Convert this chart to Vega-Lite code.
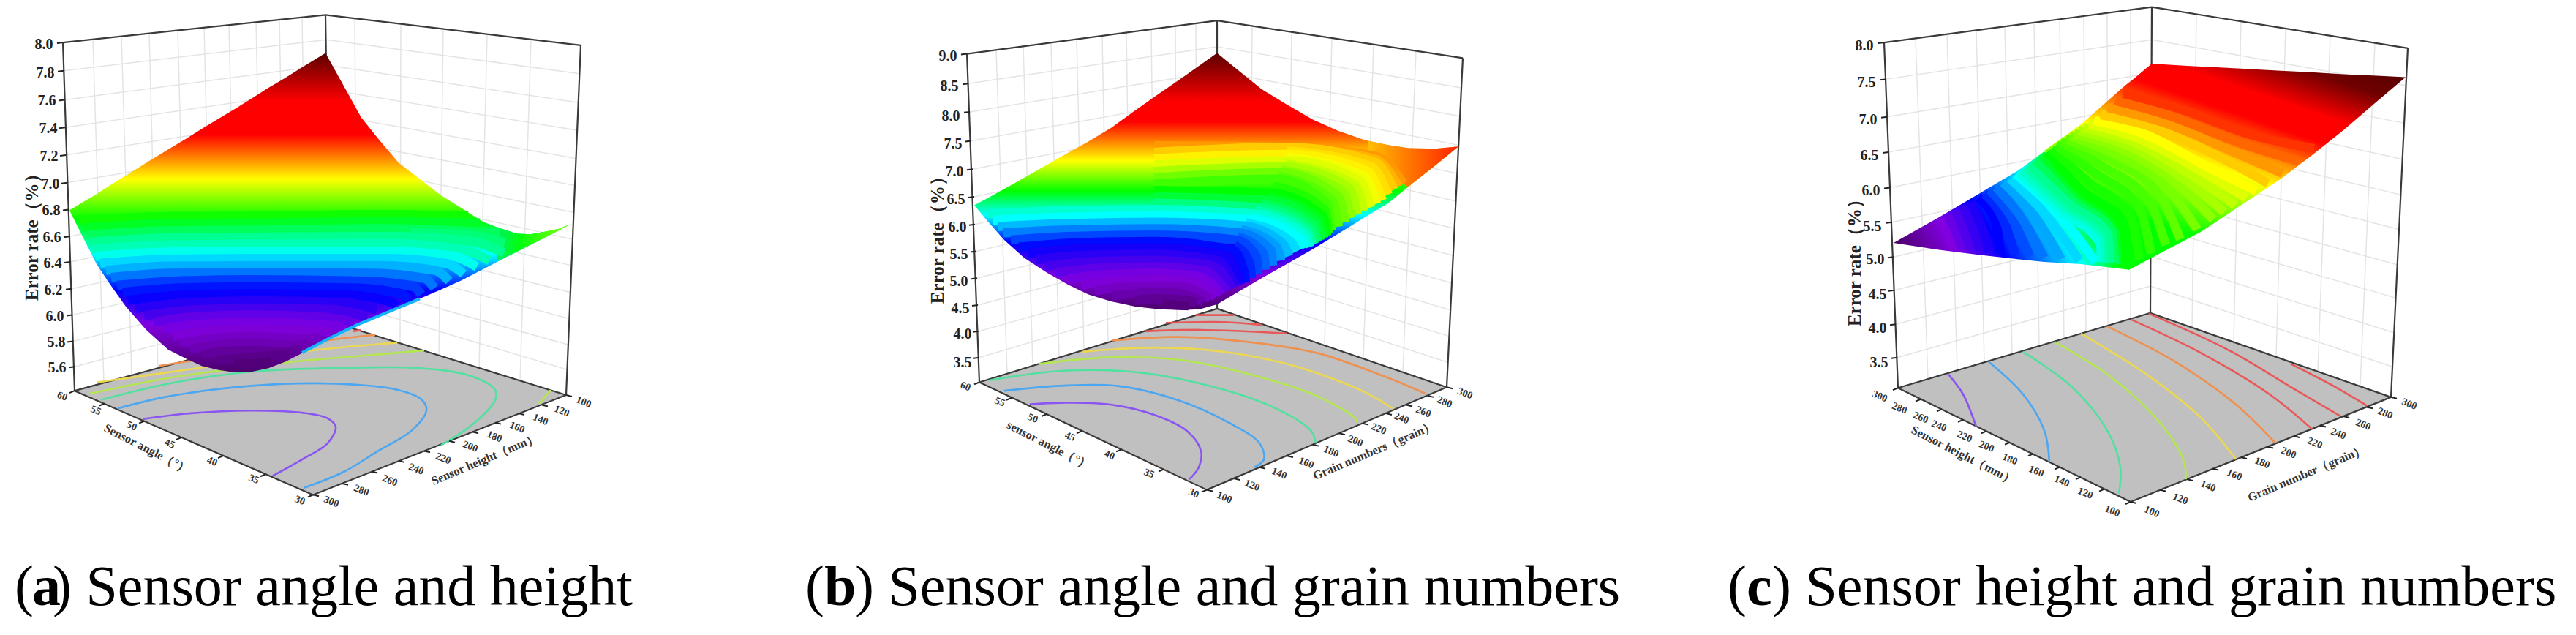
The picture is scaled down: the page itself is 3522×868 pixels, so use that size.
{
"$schema":"https://vega.github.io/schema/vega-lite/v6.json",
"width":3522,"height":868,"padding":0,"background":"white",
"autosize":{"type":"fit","contains":"padding"},
"config":{"view":{"stroke":null}},
"datasets":{
"grid":[
{"x":87,"y":100,"x2":446,"y2":56},{"x":88,"y":141,"x2":446,"y2":92},{"x":89,"y":180,"x2":446,"y2":126},{"x":90,"y":219,"x2":447,"y2":161},{"x":92,"y":258,"x2":447,"y2":195},{"x":94,"y":296,"x2":448,"y2":228},{"x":95,"y":334,"x2":448,"y2":261},{"x":96,"y":370,"x2":449,"y2":293},{"x":98,"y":408,"x2":449,"y2":327},{"x":99,"y":445,"x2":450,"y2":359},{"x":100,"y":482,"x2":450,"y2":392},{"x":102,"y":518,"x2":451,"y2":422},
{"x":446,"y":56,"x2":792,"y2":104},{"x":446,"y":92,"x2":791,"y2":145},{"x":446,"y":126,"x2":789,"y2":184},{"x":447,"y":161,"x2":788,"y2":224},{"x":447,"y":195,"x2":786,"y2":262},{"x":448,"y":228,"x2":784,"y2":300},{"x":448,"y":261,"x2":783,"y2":338},{"x":449,"y":293,"x2":781,"y2":375},{"x":449,"y":327,"x2":780,"y2":413},{"x":450,"y":359,"x2":778,"y2":450},{"x":450,"y":392,"x2":777,"y2":487},{"x":451,"y":422,"x2":775,"y2":522},
{"x":127,"y":56,"x2":142,"y2":541},{"x":166,"y":51,"x2":180,"y2":530},{"x":204,"y":47,"x2":216,"y2":520},{"x":243,"y":43,"x2":255,"y2":509},{"x":279,"y":39,"x2":290,"y2":499},{"x":313,"y":35,"x2":323,"y2":490},{"x":350,"y":31,"x2":359,"y2":480},{"x":382,"y":28,"x2":390,"y2":471},{"x":413,"y":24,"x2":420,"y2":463},
{"x":485,"y":26,"x2":488,"y2":466},{"x":548,"y":34,"x2":547,"y2":485},{"x":606,"y":41,"x2":600,"y2":502},{"x":666,"y":48,"x2":655,"y2":520},{"x":726,"y":56,"x2":711,"y2":538},
{"x":1324,"y":118,"x2":1664,"y2":66},{"x":1326,"y":158,"x2":1664,"y2":101},{"x":1328,"y":199,"x2":1664,"y2":137},{"x":1330,"y":239,"x2":1664,"y2":172},{"x":1332,"y":278,"x2":1664,"y2":206},{"x":1333,"y":317,"x2":1664,"y2":240},{"x":1335,"y":355,"x2":1664,"y2":274},{"x":1336,"y":393,"x2":1664,"y2":307},{"x":1337,"y":431,"x2":1664,"y2":340},{"x":1338,"y":468,"x2":1664,"y2":373},{"x":1339,"y":505,"x2":1664,"y2":405},
{"x":1664,"y":66,"x2":1998,"y2":124},{"x":1664,"y":101,"x2":1996,"y2":164},{"x":1664,"y":137,"x2":1994,"y2":205},{"x":1664,"y":172,"x2":1992,"y2":245},{"x":1664,"y":206,"x2":1990,"y2":284},{"x":1664,"y":240,"x2":1989,"y2":323},{"x":1664,"y":274,"x2":1987,"y2":361},{"x":1664,"y":307,"x2":1985,"y2":400},{"x":1664,"y":340,"x2":1983,"y2":438},{"x":1664,"y":373,"x2":1981,"y2":475},{"x":1664,"y":405,"x2":1980,"y2":512},
{"x":1362,"y":71,"x2":1377,"y2":528},{"x":1399,"y":65,"x2":1412,"y2":517},{"x":1437,"y":60,"x2":1448,"y2":505},{"x":1472,"y":55,"x2":1482,"y2":494},{"x":1507,"y":51,"x2":1515,"y2":484},{"x":1540,"y":46,"x2":1546,"y2":474},{"x":1574,"y":41,"x2":1579,"y2":463},{"x":1607,"y":37,"x2":1609,"y2":453},{"x":1635,"y":33,"x2":1637,"y2":445},
{"x":1712,"y":37,"x2":1709,"y2":452},{"x":1766,"y":45,"x2":1760,"y2":470},{"x":1821,"y":54,"x2":1811,"y2":488},{"x":1878,"y":63,"x2":1864,"y2":507},{"x":1936,"y":72,"x2":1918,"y2":526},
{"x":2578,"y":112,"x2":2942,"y2":56},{"x":2580,"y":165,"x2":2942,"y2":103},{"x":2582,"y":215,"x2":2942,"y2":147},{"x":2584,"y":265,"x2":2942,"y2":191},{"x":2587,"y":314,"x2":2941,"y2":235},{"x":2589,"y":363,"x2":2941,"y2":278},{"x":2590,"y":410,"x2":2941,"y2":320},{"x":2592,"y":458,"x2":2940,"y2":362},{"x":2594,"y":505,"x2":2940,"y2":404},
{"x":2942,"y":56,"x2":3290,"y2":121},{"x":2942,"y":103,"x2":3287,"y2":174},{"x":2942,"y":147,"x2":3285,"y2":225},{"x":2942,"y":191,"x2":3282,"y2":275},{"x":2941,"y":235,"x2":3280,"y2":324},{"x":2941,"y":278,"x2":3278,"y2":374},{"x":2941,"y":320,"x2":3276,"y2":421},{"x":2940,"y":362,"x2":3273,"y2":470},{"x":2940,"y":404,"x2":3271,"y2":518},
{"x":2619,"y":54,"x2":2636,"y2":535},{"x":2662,"y":48,"x2":2676,"y2":523},{"x":2702,"y":43,"x2":2713,"y2":512},{"x":2741,"y":37,"x2":2751,"y2":500},{"x":2781,"y":32,"x2":2788,"y2":489},{"x":2816,"y":27,"x2":2822,"y2":478},{"x":2849,"y":23,"x2":2852,"y2":469},{"x":2881,"y":18,"x2":2882,"y2":460},{"x":2913,"y":14,"x2":2913,"y2":450},
{"x":3003,"y":20,"x2":2997,"y2":463},{"x":3064,"y":30,"x2":3054,"y2":483},{"x":3125,"y":40,"x2":3112,"y2":504},{"x":3186,"y":50,"x2":3169,"y2":525},{"x":3247,"y":61,"x2":3227,"y2":546}
],
"floor":[
{"p":"a","x":102,"y":552,"y2":552},{"p":"a","x":428,"y":460,"y2":699},{"p":"a","x":451,"y":454,"y2":690},{"p":"a","x":774,"y":558,"y2":558},
{"p":"b","x":1339,"y":540,"y2":540},{"p":"b","x":1650,"y":440,"y2":692},{"p":"b","x":1664,"y":436,"y2":686},{"p":"b","x":1978,"y":547,"y2":547},
{"p":"c","x":2595,"y":548,"y2":548},{"p":"c","x":2913,"y":450,"y2":709},{"p":"c","x":2940,"y":442,"y2":698},{"p":"c","x":3269,"y":561,"y2":561}
],
"frame":[
{"x":86,"y":60,"x2":102,"y2":552},{"x":445,"y":21,"x2":451,"y2":454},{"x":794,"y":64,"x2":774,"y2":558},{"x":86,"y":60,"x2":445,"y2":21},{"x":445,"y":21,"x2":794,"y2":64},{"x":102,"y":552,"x2":451,"y2":454},{"x":451,"y":454,"x2":774,"y2":558},{"x":102,"y":552,"x2":428,"y2":699},{"x":428,"y":699,"x2":774,"y2":558},
{"x":1322,"y":76,"x2":1339,"y2":540},{"x":1664,"y":29,"x2":1664,"y2":436},{"x":2000,"y":82,"x2":1978,"y2":547},{"x":1322,"y":76,"x2":1664,"y2":29},{"x":1664,"y":29,"x2":2000,"y2":82},{"x":1339,"y":540,"x2":1664,"y2":436},{"x":1664,"y":436,"x2":1978,"y2":547},{"x":1339,"y":540,"x2":1650,"y2":692},{"x":1650,"y":692,"x2":1978,"y2":547},
{"x":2576,"y":60,"x2":2595,"y2":548},{"x":2942,"y":10,"x2":2940,"y2":442},{"x":3292,"y":68,"x2":3269,"y2":561},{"x":2576,"y":60,"x2":2942,"y2":10},{"x":2942,"y":10,"x2":3292,"y2":68},{"x":2595,"y":548,"x2":2940,"y2":442},{"x":2940,"y":442,"x2":3269,"y2":561},{"x":2595,"y":548,"x2":2913,"y2":709},{"x":2913,"y":709,"x2":3269,"y2":561}
],
"ticks":[
{"x":86,"y":60,"x2":78,"y2":61},{"x":87,"y":100,"x2":79,"y2":101},{"x":88,"y":141,"x2":80,"y2":142},{"x":89,"y":180,"x2":81,"y2":181},{"x":90,"y":219,"x2":82,"y2":220},{"x":92,"y":258,"x2":84,"y2":259},{"x":94,"y":296,"x2":86,"y2":297},{"x":95,"y":334,"x2":87,"y2":335},{"x":96,"y":370,"x2":88,"y2":371},{"x":98,"y":408,"x2":90,"y2":409},{"x":99,"y":445,"x2":91,"y2":446},{"x":100,"y":482,"x2":92,"y2":483},{"x":102,"y":518,"x2":94,"y2":519},
{"x":102,"y":552,"x2":95,"y2":555},{"x":143,"y":570,"x2":136,"y2":573},{"x":197,"y":595,"x2":190,"y2":598},{"x":248,"y":618,"x2":241,"y2":621},{"x":305,"y":644,"x2":298,"y2":647},{"x":363,"y":670,"x2":356,"y2":673},{"x":428,"y":699,"x2":421,"y2":702},
{"x":428,"y":699,"x2":436,"y2":701},{"x":468,"y":683,"x2":476,"y2":685},{"x":508,"y":666,"x2":516,"y2":668},{"x":545,"y":651,"x2":553,"y2":653},{"x":580,"y":637,"x2":588,"y2":639},{"x":614,"y":623,"x2":622,"y2":625},{"x":646,"y":610,"x2":654,"y2":612},{"x":677,"y":597,"x2":685,"y2":599},{"x":709,"y":584,"x2":717,"y2":586},{"x":741,"y":572,"x2":749,"y2":574},{"x":774,"y":558,"x2":782,"y2":560},
{"x":1322,"y":76,"x2":1314,"y2":77},{"x":1324,"y":118,"x2":1316,"y2":119},{"x":1326,"y":158,"x2":1318,"y2":159},{"x":1328,"y":199,"x2":1320,"y2":200},{"x":1330,"y":239,"x2":1322,"y2":240},{"x":1332,"y":278,"x2":1324,"y2":279},{"x":1333,"y":317,"x2":1325,"y2":318},{"x":1335,"y":355,"x2":1327,"y2":356},{"x":1336,"y":393,"x2":1328,"y2":394},{"x":1337,"y":431,"x2":1329,"y2":432},{"x":1338,"y":468,"x2":1330,"y2":469},{"x":1339,"y":505,"x2":1331,"y2":506},
{"x":1339,"y":540,"x2":1332,"y2":543},{"x":1383,"y":562,"x2":1376,"y2":565},{"x":1431,"y":585,"x2":1424,"y2":588},{"x":1479,"y":609,"x2":1472,"y2":612},{"x":1533,"y":635,"x2":1526,"y2":638},{"x":1591,"y":663,"x2":1584,"y2":666},{"x":1650,"y":692,"x2":1643,"y2":695},
{"x":1650,"y":692,"x2":1658,"y2":694},{"x":1687,"y":676,"x2":1695,"y2":678},{"x":1722,"y":660,"x2":1730,"y2":662},{"x":1760,"y":644,"x2":1768,"y2":646},{"x":1795,"y":628,"x2":1803,"y2":630},{"x":1831,"y":612,"x2":1839,"y2":614},{"x":1863,"y":598,"x2":1871,"y2":600},{"x":1895,"y":584,"x2":1903,"y2":586},{"x":1923,"y":572,"x2":1931,"y2":574},{"x":1952,"y":559,"x2":1960,"y2":561},{"x":1978,"y":547,"x2":1986,"y2":549},
{"x":2576,"y":60,"x2":2568,"y2":61},{"x":2578,"y":112,"x2":2570,"y2":113},{"x":2580,"y":165,"x2":2572,"y2":166},{"x":2582,"y":215,"x2":2574,"y2":216},{"x":2584,"y":265,"x2":2576,"y2":266},{"x":2587,"y":314,"x2":2579,"y2":315},{"x":2589,"y":363,"x2":2581,"y2":364},{"x":2590,"y":410,"x2":2582,"y2":411},{"x":2592,"y":458,"x2":2584,"y2":459},{"x":2594,"y":505,"x2":2586,"y2":506},
{"x":2595,"y":548,"x2":2588,"y2":551},{"x":2626,"y":564,"x2":2619,"y2":567},{"x":2655,"y":578,"x2":2648,"y2":581},{"x":2684,"y":593,"x2":2677,"y2":596},{"x":2716,"y":609,"x2":2709,"y2":612},{"x":2748,"y":625,"x2":2741,"y2":628},{"x":2780,"y":641,"x2":2773,"y2":644},{"x":2816,"y":660,"x2":2809,"y2":663},{"x":2845,"y":674,"x2":2838,"y2":677},{"x":2877,"y":691,"x2":2870,"y2":694},{"x":2913,"y":709,"x2":2906,"y2":712},
{"x":2913,"y":709,"x2":2921,"y2":711},{"x":2953,"y":692,"x2":2961,"y2":694},{"x":2990,"y":677,"x2":2998,"y2":679},{"x":3025,"y":662,"x2":3033,"y2":664},{"x":3064,"y":646,"x2":3072,"y2":648},{"x":3100,"y":631,"x2":3108,"y2":633},{"x":3136,"y":616,"x2":3144,"y2":618},{"x":3172,"y":601,"x2":3180,"y2":603},{"x":3204,"y":588,"x2":3212,"y2":590},{"x":3236,"y":575,"x2":3244,"y2":577},{"x":3269,"y":561,"x2":3277,"y2":563}
],
"contours":[
{"p":"a","c":"purple","x":195,"y":592},{"p":"a","c":"purple","x":258,"y":584},{"p":"a","c":"purple","x":344,"y":580},{"p":"a","c":"purple","x":413,"y":583},{"p":"a","c":"purple","x":448,"y":591},{"p":"a","c":"purple","x":459,"y":603},{"p":"a","c":"purple","x":448,"y":626},{"p":"a","c":"purple","x":413,"y":649},{"p":"a","c":"purple","x":373,"y":672},
{"p":"a","c":"blue","x":161,"y":577},{"p":"a","c":"blue","x":230,"y":560},{"p":"a","c":"blue","x":344,"y":545},{"p":"a","c":"blue","x":459,"y":542},{"p":"a","c":"blue","x":545,"y":551},{"p":"a","c":"blue","x":577,"y":565},{"p":"a","c":"blue","x":583,"y":580},{"p":"a","c":"blue","x":563,"y":608},{"p":"a","c":"blue","x":517,"y":637},{"p":"a","c":"blue","x":471,"y":666},{"p":"a","c":"blue","x":416,"y":689},
{"p":"a","c":"green","x":138,"y":565},{"p":"a","c":"green","x":230,"y":542},{"p":"a","c":"green","x":344,"y":525},{"p":"a","c":"green","x":459,"y":520},{"p":"a","c":"green","x":574,"y":520},{"p":"a","c":"green","x":643,"y":531},{"p":"a","c":"green","x":677,"y":551},{"p":"a","c":"green","x":677,"y":565},{"p":"a","c":"green","x":649,"y":597},{"p":"a","c":"green","x":603,"y":629},
{"p":"a","c":"lime","x":123,"y":556},{"p":"a","c":"lime","x":230,"y":534},{"p":"a","c":"lime","x":344,"y":518},{"p":"a","c":"lime","x":400,"y":511},{"p":"a","c":"lime","x":490,"y":503},{"p":"a","c":"lime","x":580,"y":495},
{"p":"a2","c":"lime","x":737,"y":570},{"p":"a2","c":"lime","x":753,"y":551},
{"p":"a","c":"yellow","x":133,"y":540},{"p":"a","c":"yellow","x":277,"y":519},{"p":"a","c":"yellow","x":420,"y":496},{"p":"a","c":"yellow","x":543,"y":484},
{"p":"a","c":"orange","x":217,"y":517},{"p":"a","c":"orange","x":253,"y":511},{"p":"a","c":"orange","x":453,"y":480},{"p":"a","c":"orange","x":513,"y":473},
{"p":"a","c":"red","x":483,"y":468},{"p":"a","c":"red","x":493,"y":466},
{"p":"b","c":"purple","x":1408,"y":571},{"p":"b","c":"purple","x":1450,"y":569},{"p":"b","c":"purple","x":1514,"y":571},{"p":"b","c":"purple","x":1578,"y":586},{"p":"b","c":"purple","x":1623,"y":609},{"p":"b","c":"purple","x":1642,"y":637},{"p":"b","c":"purple","x":1639,"y":660},{"p":"b","c":"purple","x":1626,"y":677},
{"p":"b","c":"blue","x":1373,"y":552},{"p":"b","c":"blue","x":1450,"y":545},{"p":"b","c":"blue","x":1527,"y":545},{"p":"b","c":"blue","x":1610,"y":565},{"p":"b","c":"blue","x":1680,"y":597},{"p":"b","c":"blue","x":1722,"y":626},{"p":"b","c":"blue","x":1728,"y":649},{"p":"b","c":"blue","x":1715,"y":660},
{"p":"b","c":"green","x":1354,"y":537},{"p":"b","c":"green","x":1450,"y":524},{"p":"b","c":"green","x":1546,"y":525},{"p":"b","c":"green","x":1642,"y":542},{"p":"b","c":"green","x":1738,"y":574},{"p":"b","c":"green","x":1792,"y":608},{"p":"b","c":"green","x":1799,"y":626},
{"p":"b","c":"lime","x":1421,"y":514},{"p":"b","c":"lime","x":1514,"y":505},{"p":"b","c":"lime","x":1610,"y":508},{"p":"b","c":"lime","x":1706,"y":528},{"p":"b","c":"lime","x":1802,"y":560},{"p":"b","c":"lime","x":1853,"y":591},{"p":"b","c":"lime","x":1856,"y":597},
{"p":"b","c":"yellow","x":1479,"y":497},{"p":"b","c":"yellow","x":1578,"y":491},{"p":"b","c":"yellow","x":1674,"y":497},{"p":"b","c":"yellow","x":1770,"y":517},{"p":"b","c":"yellow","x":1866,"y":554},{"p":"b","c":"yellow","x":1904,"y":577},
{"p":"b","c":"orange","x":1520,"y":481},{"p":"b","c":"orange","x":1610,"y":476},{"p":"b","c":"orange","x":1706,"y":483},{"p":"b","c":"orange","x":1802,"y":499},{"p":"b","c":"orange","x":1891,"y":531},{"p":"b","c":"orange","x":1949,"y":556},
{"p":"b","c":"red","x":1565,"y":468},{"p":"b","c":"red","x":1642,"y":466},{"p":"b","c":"red","x":1760,"y":471},
{"p":"b2","c":"red","x":1594,"y":456},{"p":"b2","c":"red","x":1674,"y":455},{"p":"b2","c":"red","x":1725,"y":459},
{"p":"b3","c":"red","x":1635,"y":445},{"p":"b3","c":"red","x":1687,"y":445},
{"p":"c","c":"purple","x":2664,"y":529},{"p":"c","c":"purple","x":2684,"y":557},{"p":"c","c":"purple","x":2702,"y":603},
{"p":"c","c":"blue","x":2719,"y":511},{"p":"c","c":"blue","x":2766,"y":557},{"p":"c","c":"blue","x":2795,"y":608},{"p":"c","c":"blue","x":2802,"y":652},
{"p":"c","c":"green","x":2766,"y":497},{"p":"c","c":"green","x":2831,"y":545},{"p":"c","c":"green","x":2881,"y":608},{"p":"c","c":"green","x":2899,"y":660},{"p":"c","c":"green","x":2897,"y":697},
{"p":"c","c":"lime","x":2809,"y":483},{"p":"c","c":"lime","x":2888,"y":534},{"p":"c","c":"lime","x":2953,"y":597},{"p":"c","c":"lime","x":2985,"y":649},{"p":"c","c":"lime","x":2989,"y":677},
{"p":"c","c":"yellow","x":2845,"y":471},{"p":"c","c":"yellow","x":2938,"y":531},{"p":"c","c":"yellow","x":3010,"y":591},{"p":"c","c":"yellow","x":3057,"y":649},
{"p":"c","c":"orange","x":2881,"y":461},{"p":"c","c":"orange","x":2974,"y":511},{"p":"c","c":"orange","x":3060,"y":574},{"p":"c","c":"orange","x":3111,"y":626},
{"p":"c","c":"red","x":2913,"y":451},{"p":"c","c":"red","x":3010,"y":499},{"p":"c","c":"red","x":3103,"y":557},{"p":"c","c":"red","x":3161,"y":606},
{"p":"c2","c":"red","x":2938,"y":443},{"p":"c2","c":"red","x":3046,"y":494},{"p":"c2","c":"red","x":3139,"y":551},{"p":"c2","c":"red","x":3200,"y":588},
{"p":"c3","c":"red","x":3132,"y":514},{"p":"c3","c":"red","x":3190,"y":545},{"p":"c3","c":"red","x":3236,"y":573}
],
"baseA":[
{"x":95,"y":297,"y2":297},{"x":110,"y":287.5,"y2":328},{"x":132,"y":274,"y2":373},{"x":150,"y":262,"y2":401},{"x":172,"y":248,"y2":433},{"x":200,"y":230,"y2":466},{"x":230,"y":211,"y2":494},{"x":255,"y":195.5,"y2":507},{"x":276,"y":182,"y2":517},{"x":300,"y":167,"y2":523},{"x":321,"y":154,"y2":526},{"x":345,"y":138.5,"y2":525},{"x":367,"y":124,"y2":520},{"x":390,"y":110,"y2":511},{"x":413,"y":95,"y2":499},{"x":445,"y":75,"y2":482},{"x":465,"y":112,"y2":471},{"x":488,"y":155,"y2":459},{"x":494,"y":166,"y2":456},{"x":518,"y":197,"y2":446},{"x":545,"y":230,"y2":434.5},{"x":574,"y":253,"y2":422},{"x":603,"y":276,"y2":409},{"x":631,"y":294,"y2":396},{"x":660,"y":313,"y2":380.5},{"x":685,"y":323,"y2":367},{"x":706,"y":330,"y2":356},{"x":725,"y":331,"y2":346},{"x":746,"y":327,"y2":335},{"x":765,"y":323,"y2":325},{"x":781,"y":316,"y2":316}
],
"cornerA":[{"x":680,"y":321,"y2":369},{"x":706,"y":330,"y2":356},{"x":725,"y":331,"y2":346},{"x":746,"y":327,"y2":335},{"x":765,"y":323,"y2":325},{"x":781,"y":316,"y2":316}],
"baseB":[
{"x":1332,"y":290,"y2":290},{"x":1350,"y":280,"y2":312},{"x":1373,"y":267,"y2":339},{"x":1400,"y":251,"y2":364},{"x":1431,"y":233,"y2":385},{"x":1460,"y":216,"y2":402},{"x":1488,"y":200,"y2":416},{"x":1520,"y":180,"y2":426},{"x":1552,"y":156,"y2":433},{"x":1585,"y":132,"y2":437},{"x":1616,"y":110,"y2":438},{"x":1640,"y":92.5,"y2":437},{"x":1664,"y":75,"y2":430},{"x":1695,"y":101,"y2":411},{"x":1725,"y":126,"y2":393},{"x":1760,"y":148,"y2":372.5},{"x":1795,"y":169,"y2":352},{"x":1830,"y":185,"y2":330},{"x":1866,"y":198,"y2":307},{"x":1898,"y":205,"y2":287},{"x":1930,"y":210,"y2":260},{"x":1962,"y":210,"y2":234},{"x":1994,"y":207,"y2":207}
],
"cornerB":[{"x":1870,"y":199,"y2":225},{"x":1898,"y":205,"y2":245},{"x":1925,"y":209,"y2":264},{"x":1962,"y":210,"y2":234},{"x":1994,"y":207,"y2":207}],
"baseCL":[{"x":2589,"y":343,"y2":343},{"x":2620,"y":325,"y2":348},{"x":2651,"y":307,"y2":353},{"x":2705,"y":274,"y2":360},{"x":2759,"y":241,"y2":366},{"x":2795,"y":214,"y2":370},{"x":2845,"y":264,"y2":373},{"x":2903,"y":317,"y2":380},{"x":2911,"y":381,"y2":381}],
"baseCR":[{"x":2795,"y":213,"y2":213},{"x":2845,"y":176,"y2":268},{"x":2903,"y":123,"y2":321},{"x":2910,"y":117,"y2":381},{"x":2913,"y":115,"y2":380},{"x":2942,"y":90,"y2":364},{"x":2990,"y":93,"y2":338},{"x":3010,"y":94,"y2":327},{"x":3064,"y":97,"y2":290},{"x":3118,"y":100,"y2":253},{"x":3160,"y":102,"y2":220},{"x":3204,"y":105,"y2":184},{"x":3250,"y":107,"y2":143},{"x":3289,"y":109,"y2":109}],
"surface":[
{"p":"a","l":55,"x":108,"y":311},{"p":"a","l":55,"x":230,"y":306},{"p":"a","l":55,"x":344,"y":305},{"p":"a","l":55,"x":520,"y":303},{"p":"a","l":55,"x":640,"y":305},
{"p":"a","l":52,"x":113,"y":322},{"p":"a","l":52,"x":230,"y":316},{"p":"a","l":52,"x":344,"y":315},{"p":"a","l":52,"x":520,"y":313},{"p":"a","l":52,"x":656,"y":315},
{"p":"a","l":49,"x":118,"y":332},{"p":"a","l":49,"x":230,"y":326},{"p":"a","l":49,"x":344,"y":325},{"p":"a","l":49,"x":520,"y":323},{"p":"a","l":49,"x":684,"y":329},
{"p":"a","l":47.5,"x":560,"y":329},{"p":"a","l":47.5,"x":640,"y":332},{"p":"a","l":47.5,"x":690,"y":343},
{"p":"a","l":46,"x":122,"y":342},{"p":"a","l":46,"x":230,"y":336},{"p":"a","l":46,"x":344,"y":335},{"p":"a","l":46,"x":530,"y":334},{"p":"a","l":46,"x":640,"y":340},{"p":"a","l":46,"x":689,"y":357},
{"p":"a","l":44,"x":126,"y":352},{"p":"a","l":44,"x":230,"y":346},{"p":"a","l":44,"x":344,"y":345},{"p":"a","l":44,"x":530,"y":344},{"p":"a","l":44,"x":630,"y":352},{"p":"a","l":44,"x":669,"y":368},
{"p":"a","l":41,"x":131,"y":362},{"p":"a","l":41,"x":230,"y":356},{"p":"a","l":41,"x":344,"y":355},{"p":"a","l":41,"x":530,"y":355},{"p":"a","l":41,"x":620,"y":362},{"p":"a","l":41,"x":652,"y":377},
{"p":"a","l":38,"x":137,"y":372},{"p":"a","l":38,"x":230,"y":366},{"p":"a","l":38,"x":344,"y":365},{"p":"a","l":38,"x":530,"y":365},{"p":"a","l":38,"x":610,"y":372},{"p":"a","l":38,"x":634,"y":387},
{"p":"a","l":36,"x":145,"y":382},{"p":"a","l":36,"x":230,"y":376},{"p":"a","l":36,"x":344,"y":375},{"p":"a","l":36,"x":520,"y":375},{"p":"a","l":36,"x":595,"y":382},{"p":"a","l":36,"x":614,"y":397},
{"p":"a","l":33,"x":152,"y":392},{"p":"a","l":33,"x":230,"y":386},{"p":"a","l":33,"x":344,"y":385},{"p":"a","l":33,"x":510,"y":386},{"p":"a","l":33,"x":580,"y":393},{"p":"a","l":33,"x":594,"y":407},
{"p":"a","l":30,"x":160,"y":403},{"p":"a","l":30,"x":240,"y":397},{"p":"a","l":30,"x":344,"y":395},{"p":"a","l":30,"x":500,"y":397},{"p":"a","l":30,"x":565,"y":405},{"p":"a","l":30,"x":576,"y":416},
{"p":"a","l":28,"x":168,"y":413},{"p":"a","l":28,"x":240,"y":407},{"p":"a","l":28,"x":344,"y":405},{"p":"a","l":28,"x":490,"y":407},{"p":"a","l":28,"x":550,"y":416},{"p":"a","l":28,"x":559,"y":424},
{"p":"a","l":26,"x":175,"y":424},{"p":"a","l":26,"x":250,"y":417},{"p":"a","l":26,"x":344,"y":415},{"p":"a","l":26,"x":480,"y":417},{"p":"a","l":26,"x":535,"y":427},{"p":"a","l":26,"x":542,"y":432},
{"p":"a","l":23,"x":185,"y":436},{"p":"a","l":23,"x":250,"y":428},{"p":"a","l":23,"x":344,"y":425},{"p":"a","l":23,"x":470,"y":427},{"p":"a","l":23,"x":515,"y":438},
{"p":"a","l":20,"x":197,"y":446},{"p":"a","l":20,"x":260,"y":438},{"p":"a","l":20,"x":344,"y":435},{"p":"a","l":20,"x":455,"y":437},{"p":"a","l":20,"x":502,"y":449},
{"p":"a","l":17,"x":210,"y":455},{"p":"a","l":17,"x":260,"y":448},{"p":"a","l":17,"x":344,"y":445},{"p":"a","l":17,"x":440,"y":448},{"p":"a","l":17,"x":484,"y":455},
{"p":"a","l":15,"x":224,"y":465},{"p":"a","l":15,"x":270,"y":458},{"p":"a","l":15,"x":344,"y":455},{"p":"a","l":15,"x":430,"y":458},{"p":"a","l":15,"x":469,"y":461},
{"p":"a","l":13,"x":236,"y":475},{"p":"a","l":13,"x":280,"y":468},{"p":"a","l":13,"x":344,"y":465},{"p":"a","l":13,"x":420,"y":468},{"p":"a","l":13,"x":454,"y":469},
{"p":"a","l":11,"x":246,"y":485},{"p":"a","l":11,"x":290,"y":478},{"p":"a","l":11,"x":344,"y":475},{"p":"a","l":11,"x":410,"y":478},{"p":"a","l":11,"x":439,"y":476},
{"p":"a","l":9,"x":260,"y":493},{"p":"a","l":9,"x":300,"y":487},{"p":"a","l":9,"x":344,"y":485},{"p":"a","l":9,"x":400,"y":488},{"p":"a","l":9,"x":424,"y":484},
{"p":"a","l":6,"x":276,"y":501},{"p":"a","l":6,"x":300,"y":497},{"p":"a","l":6,"x":344,"y":495},{"p":"a","l":6,"x":395,"y":497},{"p":"a","l":6,"x":411,"y":491},
{"p":"a","l":4,"x":296,"y":509},{"p":"a","l":4,"x":344,"y":505},{"p":"a","l":4,"x":397,"y":500},
{"p":"a","l":2,"x":320,"y":514},{"p":"a","l":2,"x":344,"y":514},{"p":"a","l":2,"x":370,"y":510},
{"p":"b","l":74,"x":1578,"y":206},{"p":"b","l":74,"x":1750,"y":208},{"p":"b","l":74,"x":1880,"y":220},{"p":"b","l":74,"x":1919,"y":259},
{"p":"b","l":73,"x":1755,"y":208},{"p":"b","l":73,"x":1880,"y":224.5},{"p":"b","l":73,"x":1912,"y":263},
{"p":"b","l":72,"x":1578,"y":215},{"p":"b","l":72,"x":1760,"y":208},{"p":"b","l":72,"x":1880,"y":229},{"p":"b","l":72,"x":1906,"y":268},
{"p":"b","l":71.2,"x":1760,"y":213},{"p":"b","l":71.2,"x":1875,"y":235.5},{"p":"b","l":71.2,"x":1898,"y":275},
{"p":"b","l":70.5,"x":1578,"y":224},{"p":"b","l":70.5,"x":1760,"y":218},{"p":"b","l":70.5,"x":1870,"y":242},{"p":"b","l":70.5,"x":1890,"y":283},
{"p":"b","l":69.3,"x":1760,"y":222.5},{"p":"b","l":69.3,"x":1865,"y":249},{"p":"b","l":69.3,"x":1882,"y":288},
{"p":"b","l":68,"x":1578,"y":233},{"p":"b","l":68,"x":1760,"y":227},{"p":"b","l":68,"x":1860,"y":256},{"p":"b","l":68,"x":1874,"y":293},
{"p":"b","l":66.3,"x":1757,"y":231.5},{"p":"b","l":66.3,"x":1852,"y":261},{"p":"b","l":66.3,"x":1865,"y":298},
{"p":"b","l":64.5,"x":1578,"y":242},{"p":"b","l":64.5,"x":1755,"y":236},{"p":"b","l":64.5,"x":1845,"y":266},{"p":"b","l":64.5,"x":1856,"y":303},
{"p":"b","l":62.8,"x":1752,"y":240},{"p":"b","l":62.8,"x":1837,"y":272},{"p":"b","l":62.8,"x":1847,"y":308},
{"p":"b","l":61,"x":1578,"y":251},{"p":"b","l":61,"x":1750,"y":244},{"p":"b","l":61,"x":1830,"y":278},{"p":"b","l":61,"x":1839,"y":314},
{"p":"b","l":59.5,"x":1747,"y":248.5},{"p":"b","l":59.5,"x":1822,"y":283.5},{"p":"b","l":59.5,"x":1830,"y":320},
{"p":"b","l":58,"x":1578,"y":260},{"p":"b","l":58,"x":1745,"y":253},{"p":"b","l":58,"x":1815,"y":289},{"p":"b","l":58,"x":1820,"y":326},
{"p":"b","l":56,"x":1741,"y":263},{"p":"b","l":56,"x":1811,"y":297},{"p":"b","l":56,"x":1817,"y":329},
{"p":"b","l":54,"x":1578,"y":269},{"p":"b","l":54,"x":1738,"y":273},{"p":"b","l":54,"x":1808,"y":305},{"p":"b","l":54,"x":1814,"y":333},
{"p":"b","l":52.5,"x":1734,"y":278},{"p":"b","l":52.5,"x":1804,"y":309.5},{"p":"b","l":52.5,"x":1810,"y":336},
{"p":"b","l":51,"x":1578,"y":278},{"p":"b","l":51,"x":1730,"y":283},{"p":"b","l":51,"x":1800,"y":314},{"p":"b","l":51,"x":1806,"y":339},
{"p":"b","l":49,"x":1725,"y":288},{"p":"b","l":49,"x":1795,"y":318},{"p":"b","l":49,"x":1801,"y":341},
{"p":"b","l":47,"x":1578,"y":287},{"p":"b","l":47,"x":1720,"y":293},{"p":"b","l":47,"x":1790,"y":322},{"p":"b","l":47,"x":1797,"y":344},
{"p":"b","l":44.7,"x":1716,"y":297},{"p":"b","l":44.7,"x":1786,"y":326},{"p":"b","l":44.7,"x":1794,"y":346},
{"p":"b","l":42.5,"x":1351,"y":302},{"p":"b","l":42.5,"x":1450,"y":298},{"p":"b","l":42.5,"x":1578,"y":296},{"p":"b","l":42.5,"x":1712,"y":302},{"p":"b","l":42.5,"x":1783,"y":330},{"p":"b","l":42.5,"x":1791,"y":349},
{"p":"b","l":41.2,"x":1709,"y":306},{"p":"b","l":41.2,"x":1779,"y":334},{"p":"b","l":41.2,"x":1787,"y":349},
{"p":"b","l":40,"x":1357,"y":311},{"p":"b","l":40,"x":1450,"y":307},{"p":"b","l":40,"x":1578,"y":305},{"p":"b","l":40,"x":1706,"y":310},{"p":"b","l":40,"x":1776,"y":338},{"p":"b","l":40,"x":1784,"y":349},
{"p":"b","l":38.2,"x":1703,"y":314.5},{"p":"b","l":38.2,"x":1765,"y":341.5},{"p":"b","l":38.2,"x":1773,"y":355},
{"p":"b","l":36.5,"x":1364,"y":320},{"p":"b","l":36.5,"x":1450,"y":316},{"p":"b","l":36.5,"x":1578,"y":314},{"p":"b","l":36.5,"x":1700,"y":319},{"p":"b","l":36.5,"x":1755,"y":345},{"p":"b","l":36.5,"x":1762,"y":362},
{"p":"b","l":35,"x":1697,"y":324},{"p":"b","l":35,"x":1746,"y":349.5},{"p":"b","l":35,"x":1751,"y":368},
{"p":"b","l":33.5,"x":1372,"y":329},{"p":"b","l":33.5,"x":1450,"y":325},{"p":"b","l":33.5,"x":1578,"y":323},{"p":"b","l":33.5,"x":1695,"y":329},{"p":"b","l":33.5,"x":1738,"y":354},{"p":"b","l":33.5,"x":1740,"y":375},
{"p":"b","l":32,"x":1692,"y":334},{"p":"b","l":32,"x":1728,"y":358.5},{"p":"b","l":32,"x":1730,"y":381},
{"p":"b","l":30.5,"x":1382,"y":339},{"p":"b","l":30.5,"x":1460,"y":334},{"p":"b","l":30.5,"x":1578,"y":332},{"p":"b","l":30.5,"x":1690,"y":339},{"p":"b","l":30.5,"x":1718,"y":363},{"p":"b","l":30.5,"x":1720,"y":388},
{"p":"b","l":29,"x":1688,"y":346},{"p":"b","l":29,"x":1709,"y":372},{"p":"b","l":29,"x":1711,"y":393},
{"p":"b","l":27.5,"x":1393,"y":349},{"p":"b","l":27.5,"x":1470,"y":343},{"p":"b","l":27.5,"x":1578,"y":341},{"p":"b","l":27.5,"x":1687,"y":354},{"p":"b","l":27.5,"x":1700,"y":381},{"p":"b","l":27.5,"x":1703,"y":399},
{"p":"b","l":25,"x":1405,"y":358},{"p":"b","l":25,"x":1470,"y":352},{"p":"b","l":25,"x":1578,"y":350},{"p":"b","l":25,"x":1675,"y":361},{"p":"b","l":25,"x":1692,"y":387},{"p":"b","l":25,"x":1696,"y":402},
{"p":"b","l":22.5,"x":1416,"y":367},{"p":"b","l":22.5,"x":1480,"y":361},{"p":"b","l":22.5,"x":1578,"y":359},{"p":"b","l":22.5,"x":1665,"y":368},{"p":"b","l":22.5,"x":1685,"y":395},{"p":"b","l":22.5,"x":1690,"y":405},
{"p":"b","l":20,"x":1429,"y":376},{"p":"b","l":20,"x":1490,"y":370},{"p":"b","l":20,"x":1578,"y":368},{"p":"b","l":20,"x":1655,"y":375},{"p":"b","l":20,"x":1680,"y":399},{"p":"b","l":20,"x":1684,"y":408},
{"p":"b","l":17.5,"x":1443,"y":385},{"p":"b","l":17.5,"x":1500,"y":379},{"p":"b","l":17.5,"x":1578,"y":377},{"p":"b","l":17.5,"x":1645,"y":382},{"p":"b","l":17.5,"x":1677,"y":411},
{"p":"b","l":15,"x":1460,"y":394},{"p":"b","l":15,"x":1510,"y":388},{"p":"b","l":15,"x":1578,"y":386},{"p":"b","l":15,"x":1640,"y":391},{"p":"b","l":15,"x":1670,"y":416},
{"p":"b","l":13,"x":1478,"y":403},{"p":"b","l":13,"x":1520,"y":397},{"p":"b","l":13,"x":1578,"y":395},{"p":"b","l":13,"x":1630,"y":399},{"p":"b","l":13,"x":1662,"y":420},
{"p":"b","l":10.5,"x":1497,"y":411},{"p":"b","l":10.5,"x":1530,"y":406},{"p":"b","l":10.5,"x":1578,"y":404},{"p":"b","l":10.5,"x":1620,"y":406},{"p":"b","l":10.5,"x":1655,"y":422},
{"p":"b","l":8,"x":1520,"y":418},{"p":"b","l":8,"x":1578,"y":413},{"p":"b","l":8,"x":1610,"y":414},{"p":"b","l":8,"x":1645,"y":427},
{"p":"b","l":5,"x":1552,"y":424},{"p":"b","l":5,"x":1578,"y":422},{"p":"b","l":5,"x":1620,"y":424},{"p":"b","l":5,"x":1636,"y":428},
{"p":"b","l":2.5,"x":1590,"y":430},{"p":"b","l":2.5,"x":1625,"y":432},
{"p":"c","l":14,"x":2655,"y":310},{"p":"c","l":14,"x":2662,"y":330},{"p":"c","l":14,"x":2671,"y":349},
{"p":"c","l":16.5,"x":2664,"y":304},{"p":"c","l":16.5,"x":2675,"y":330},{"p":"c","l":16.5,"x":2683,"y":351},
{"p":"c","l":19,"x":2674,"y":298},{"p":"c","l":19,"x":2687,"y":330},{"p":"c","l":19,"x":2695,"y":353},
{"p":"c","l":21.5,"x":2684,"y":292},{"p":"c","l":21.5,"x":2698,"y":325},{"p":"c","l":21.5,"x":2707,"y":354},
{"p":"c","l":24,"x":2694,"y":286},{"p":"c","l":24,"x":2710,"y":322},{"p":"c","l":24,"x":2720,"y":356},
{"p":"c","l":27,"x":2705,"y":279},{"p":"c","l":27,"x":2730,"y":320},{"p":"c","l":27,"x":2735,"y":358},
{"p":"c","l":29,"x":2713,"y":274},{"p":"c","l":29,"x":2742,"y":318},{"p":"c","l":29,"x":2755,"y":360},
{"p":"c","l":31,"x":2721,"y":269},{"p":"c","l":31,"x":2755,"y":316},{"p":"c","l":31,"x":2775,"y":362},
{"p":"c","l":33,"x":2729,"y":264},{"p":"c","l":33,"x":2768,"y":314},{"p":"c","l":33,"x":2795,"y":364},
{"p":"c","l":35.5,"x":2739,"y":258},{"p":"c","l":35.5,"x":2785,"y":310},{"p":"c","l":35.5,"x":2818,"y":366},
{"p":"c","l":38,"x":2748,"y":252},{"p":"c","l":38,"x":2800,"y":307},{"p":"c","l":38,"x":2843,"y":368},
{"p":"c","l":40,"x":2756,"y":246},{"p":"c","l":40,"x":2816,"y":304},{"p":"c","l":40,"x":2865,"y":370},
{"p":"c","l":41.5,"x":2760,"y":243},{"p":"c","l":41.5,"x":2820,"y":300},{"p":"c","l":41.5,"x":2872,"y":345},{"p":"c","l":41.5,"x":2873,"y":370},
{"p":"c","l":43,"x":2765,"y":240},{"p":"c","l":43,"x":2825,"y":295},{"p":"c","l":43,"x":2877,"y":335},{"p":"c","l":43,"x":2878,"y":371},
{"p":"c","l":44.5,"x":2770,"y":236},{"p":"c","l":44.5,"x":2828,"y":291},{"p":"c","l":44.5,"x":2881,"y":333},{"p":"c","l":44.5,"x":2883,"y":371},
{"p":"c","l":46,"x":2775,"y":233},{"p":"c","l":46,"x":2832,"y":287},{"p":"c","l":46,"x":2885,"y":330},{"p":"c","l":46,"x":2888,"y":372},
{"p":"c","l":49,"x":2784,"y":226},{"p":"c","l":49,"x":2838,"y":279},{"p":"c","l":49,"x":2893,"y":325},{"p":"c","l":49,"x":2898,"y":373},
{"p":"c","l":52,"x":2793,"y":219},{"p":"c","l":52,"x":2842,"y":273},{"p":"c","l":52,"x":2899,"y":322},{"p":"c","l":52,"x":2904,"y":373},
{"p":"c","l":54,"x":2799,"y":215},{"p":"c","l":54,"x":2845,"y":268},{"p":"c","l":54,"x":2903,"y":321},{"p":"c","l":54,"x":2908,"y":374},
{"p":"c","l":55.5,"x":2805,"y":210},{"p":"c","l":55.5,"x":2855,"y":257},{"p":"c","l":55.5,"x":2914,"y":308},{"p":"c","l":55.5,"x":2925,"y":367},
{"p":"c","l":57,"x":2811,"y":205},{"p":"c","l":57,"x":2865,"y":245},{"p":"c","l":57,"x":2925,"y":295},{"p":"c","l":57,"x":2941,"y":358},
{"p":"c","l":58.5,"x":2817,"y":200},{"p":"c","l":58.5,"x":2875,"y":235},{"p":"c","l":58.5,"x":2940,"y":288},{"p":"c","l":58.5,"x":2961,"y":346},
{"p":"c","l":60,"x":2824,"y":196},{"p":"c","l":60,"x":2885,"y":225},{"p":"c","l":60,"x":2955,"y":280},{"p":"c","l":60,"x":2981,"y":338},
{"p":"c","l":61.5,"x":2830,"y":192},{"p":"c","l":61.5,"x":2892,"y":218},{"p":"c","l":61.5,"x":2968,"y":271},{"p":"c","l":61.5,"x":3004,"y":324},
{"p":"c","l":63,"x":2836,"y":189},{"p":"c","l":63,"x":2900,"y":210},{"p":"c","l":63,"x":2980,"y":262},{"p":"c","l":63,"x":3026,"y":310},
{"p":"c","l":64.5,"x":2842,"y":184},{"p":"c","l":64.5,"x":2908,"y":205},{"p":"c","l":64.5,"x":2990,"y":256},{"p":"c","l":64.5,"x":3041,"y":300},
{"p":"c","l":66,"x":2848,"y":180},{"p":"c","l":66,"x":2915,"y":200},{"p":"c","l":66,"x":3000,"y":250},{"p":"c","l":66,"x":3056,"y":290},
{"p":"c","l":68,"x":2856,"y":175},{"p":"c","l":68,"x":2922,"y":195},{"p":"c","l":68,"x":3010,"y":242},{"p":"c","l":68,"x":3071,"y":280},
{"p":"c","l":70,"x":2863,"y":170},{"p":"c","l":70,"x":2931,"y":189},{"p":"c","l":70,"x":3017,"y":235},{"p":"c","l":70,"x":3085,"y":270},
{"p":"c","l":72,"x":2872,"y":162},{"p":"c","l":72,"x":2945,"y":180},{"p":"c","l":72,"x":3035,"y":222},{"p":"c","l":72,"x":3101,"y":259},
{"p":"c","l":74,"x":2882,"y":152},{"p":"c","l":74,"x":2955,"y":172},{"p":"c","l":74,"x":3050,"y":213},{"p":"c","l":74,"x":3121,"y":245},
{"p":"c","l":76,"x":2892,"y":142},{"p":"c","l":76,"x":2965,"y":163},{"p":"c","l":76,"x":3065,"y":203},{"p":"c","l":76,"x":3143,"y":228},
{"p":"c","l":78,"x":2903,"y":132},{"p":"c","l":78,"x":2975,"y":152},{"p":"c","l":78,"x":3080,"y":191},{"p":"c","l":78,"x":3164,"y":210}
],
"rim":[{"x":413,"y":498},{"x":450,"y":478},{"x":488,"y":459},{"x":574,"y":422}],
"yLabels":[
{"t":"8.0","x":60,"y":63},{"t":"7.8","x":62,"y":103},{"t":"7.6","x":64,"y":143},{"t":"7.4","x":66,"y":182},{"t":"7.2","x":67,"y":221},{"t":"7.0","x":69,"y":260},{"t":"6.8","x":70,"y":298},{"t":"6.6","x":71,"y":336},{"t":"6.4","x":72,"y":372},{"t":"6.2","x":73,"y":410},{"t":"6.0","x":75,"y":447},{"t":"5.8","x":77,"y":484},{"t":"5.6","x":78,"y":520},
{"t":"9.0","x":1296,"y":80},{"t":"8.5","x":1298,"y":122},{"t":"8.0","x":1300,"y":164},{"t":"7.5","x":1303,"y":204},{"t":"7.0","x":1305,"y":243},{"t":"6.5","x":1307,"y":282},{"t":"6.0","x":1309,"y":321},{"t":"5.5","x":1311,"y":360},{"t":"5.0","x":1311,"y":398},{"t":"4.5","x":1313,"y":436},{"t":"4.0","x":1316,"y":472},{"t":"3.5","x":1316,"y":513},
{"t":"8.0","x":2549,"y":65},{"t":"7.5","x":2552,"y":117},{"t":"7.0","x":2554,"y":169},{"t":"6.5","x":2556,"y":220},{"t":"6.0","x":2558,"y":270},{"t":"5.5","x":2560,"y":320},{"t":"5.0","x":2564,"y":367},{"t":"4.5","x":2567,"y":416},{"t":"4.0","x":2567,"y":464},{"t":"3.5","x":2569,"y":513}
],
"floorLabels":[
{"t":"60","x":85,"y":560},{"t":"55","x":131,"y":580},{"t":"50","x":180,"y":602},{"t":"45","x":232,"y":627},{"t":"40","x":290,"y":652},{"t":"35","x":347,"y":677},{"t":"30","x":410,"y":707},
{"t":"300","x":453,"y":709},{"t":"280","x":494,"y":693},{"t":"260","x":533,"y":679},{"t":"240","x":569,"y":663},{"t":"220","x":606,"y":648},{"t":"200","x":643,"y":631},{"t":"180","x":676,"y":617},{"t":"160","x":707,"y":604},{"t":"140","x":739,"y":593},{"t":"120","x":768,"y":581},{"t":"100","x":798,"y":568},
{"t":"60","x":1320,"y":546},{"t":"55","x":1367,"y":568},{"t":"50","x":1412,"y":591},{"t":"45","x":1463,"y":617},{"t":"40","x":1517,"y":643},{"t":"35","x":1571,"y":669},{"t":"30","x":1632,"y":697},
{"t":"100","x":1674,"y":703},{"t":"120","x":1712,"y":686},{"t":"140","x":1749,"y":669},{"t":"160","x":1786,"y":654},{"t":"180","x":1820,"y":638},{"t":"200","x":1853,"y":623},{"t":"220","x":1885,"y":606},{"t":"240","x":1916,"y":591},{"t":"260","x":1946,"y":582},{"t":"280","x":1975,"y":568},{"t":"300","x":2003,"y":556},
{"t":"300","x":2570,"y":560},{"t":"280","x":2597,"y":577},{"t":"260","x":2626,"y":590},{"t":"240","x":2651,"y":602},{"t":"220","x":2686,"y":617},{"t":"200","x":2716,"y":631},{"t":"180","x":2748,"y":649},{"t":"160","x":2784,"y":666},{"t":"140","x":2819,"y":680},{"t":"120","x":2851,"y":697},{"t":"100","x":2888,"y":722},
{"t":"100","x":2942,"y":723},{"t":"120","x":2981,"y":705},{"t":"140","x":3019,"y":687},{"t":"160","x":3055,"y":671},{"t":"180","x":3093,"y":654},{"t":"200","x":3129,"y":640},{"t":"220","x":3165,"y":626},{"t":"240","x":3197,"y":613},{"t":"260","x":3231,"y":600},{"t":"280","x":3261,"y":584},{"t":"300","x":3294,"y":571}
],
"downTitles":[{"t":"Sensor angle（°）","x":201,"y":634},{"t":"sensor angle（°）","x":1434,"y":629},{"t":"Sensor height（mm）","x":2684,"y":643}],
"upTitles":[{"t":"Sensor height（mm）","x":663,"y":649},{"t":"Grain numbers（grain）","x":1879,"y":637},{"t":"Grain number（grain）","x":3154,"y":669}],
"yTitles":[{"t":"Error rate（%）","x":44,"y":329},{"t":"Error rate（%）","x":1282,"y":333},{"t":"Error rate（%）","x":2536,"y":365}],
"captionPlain":[{"t":"(","x":20,"y":855},{"t":") Sensor angle and height","x":72,"y":855},{"t":"(","x":1101,"y":855},{"t":") Sensor angle and grain numbers","x":1169,"y":855},{"t":"(","x":2362,"y":855},{"t":") Sensor height and grain numbers","x":2423,"y":855}],
"captionBold":[{"t":"a","x":44,"y":855},{"t":"b","x":1127,"y":855},{"t":"c","x":2388,"y":855}]
},
"encoding":{
"x":{"field":"x","type":"quantitative","axis":null,"scale":{"domain":[0,3522],"nice":false,"zero":false}},
"y":{"field":"y","type":"quantitative","axis":null,"scale":{"domain":[897,0],"nice":false,"zero":false}}
},
"layer":[
{"data":{"name":"grid"},"mark":{"type":"rule","color":"#e4e4e4","strokeWidth":1.5},"encoding":{"x2":{"field":"x2"},"y2":{"field":"y2"}}},
{"data":{"name":"floor"},"mark":{"type":"area","color":"#c0c0c0","orient":"vertical"},"encoding":{"y2":{"field":"y2"},"detail":{"field":"p"}}},
{"data":{"name":"frame"},"mark":{"type":"rule","color":"#3a3a3a","strokeWidth":2.2},"encoding":{"x2":{"field":"x2"},"y2":{"field":"y2"}}},
{"data":{"name":"contours"},"transform":[{"window":[{"op":"row_number","as":"i"}]}],"mark":{"type":"line","strokeWidth":2.6,"interpolate":"catmull-rom"},"encoding":{"order":{"field":"i","type":"quantitative"},"detail":[{"field":"p"},{"field":"c"}],"color":{"field":"c","type":"nominal","legend":null,"scale":{"domain":["purple","blue","green","lime","yellow","orange","red"],"range":["#8a55f0","#4da6f0","#50e0a0","#b4e650","#ecd850","#ee9050","#e85858"]}}}},
{"data":{"name":"baseA"},"mark":{"type":"area","orient":"vertical","color":{"gradient":"linear","x1":0,"y1":0,"x2":0,"y2":1,"stops":[{"offset":0,"color":"#5a0000"},{"offset":0.151,"color":"#ff0000"},{"offset":0.255,"color":"#ff0000"},{"offset":0.395,"color":"#ffff00"},{"offset":0.521,"color":"#00ff00"},{"offset":0.63,"color":"#00ffff"},{"offset":0.743,"color":"#0000ff"},{"offset":0.851,"color":"#8000e0"},{"offset":1,"color":"#4a0068"}]}},"encoding":{"y2":{"field":"y2"}}},
{"data":{"name":"cornerA"},"mark":{"type":"area","orient":"vertical","color":{"gradient":"linear","x1":0,"y1":0,"x2":1,"y2":0,"stops":[{"offset":0,"color":"#00f060"},{"offset":0.3,"color":"#00ff10"},{"offset":1,"color":"#90ff00"}]}},"encoding":{"y2":{"field":"y2"}}},
{"data":{"name":"baseB"},"mark":{"type":"area","orient":"vertical","color":{"gradient":"linear","x1":0,"y1":0,"x2":0,"y2":1,"stops":[{"offset":0,"color":"#5a0000"},{"offset":0.19,"color":"#ff0000"},{"offset":0.267,"color":"#ff0000"},{"offset":0.419,"color":"#ffff00"},{"offset":0.537,"color":"#00ff00"},{"offset":0.631,"color":"#00ffff"},{"offset":0.736,"color":"#0000ff"},{"offset":0.868,"color":"#8000e0"},{"offset":1,"color":"#4a0068"}]}},"encoding":{"y2":{"field":"y2"}}},
{"data":{"name":"cornerB"},"mark":{"type":"area","orient":"vertical","color":{"gradient":"linear","x1":0,"y1":0,"x2":1,"y2":0,"stops":[{"offset":0,"color":"#ffc000"},{"offset":1,"color":"#ff2000"}]}},"encoding":{"y2":{"field":"y2"}}},
{"data":{"name":"baseCL"},"mark":{"type":"area","orient":"vertical","color":{"gradient":"linear","x1":0,"y1":1,"x2":0.917,"y2":0.725,"stops":[{"offset":0.07,"color":"#4a0068"},{"offset":0.316,"color":"#8000e0"},{"offset":0.51,"color":"#0000ff"},{"offset":0.81,"color":"#00ffff"},{"offset":0.97,"color":"#00ff00"}]}},"encoding":{"y2":{"field":"y2"}}},
{"data":{"name":"baseCR"},"mark":{"type":"area","orient":"vertical","color":{"gradient":"linear","x1":0,"y1":1,"x2":0.72,"y2":-0.2,"stops":[{"offset":0.25,"color":"#00ff00"},{"offset":0.48,"color":"#ffff00"},{"offset":0.66,"color":"#ff0000"},{"offset":0.74,"color":"#ff0000"},{"offset":0.86,"color":"#700000"},{"offset":0.94,"color":"#5a0000"}]}},"encoding":{"y2":{"field":"y2"}}},
{"data":{"name":"surface"},"transform":[{"window":[{"op":"row_number","as":"i"}]}],"mark":{"type":"line","strokeWidth":12.5,"strokeCap":"butt","interpolate":"monotone"},"encoding":{"order":{"field":"i","type":"quantitative"},"detail":[{"field":"p"},{"field":"l"}],"color":{"field":"l","type":"quantitative","legend":null,"scale":{"type":"linear","domain":[0,14,27,40,54,70,80,88,100],"range":["#4a0068","#8000e0","#0000ff","#00ffff","#00ff00","#ffff00","#ff0000","#ff0000","#5a0000"],"interpolate":"rgb"}}}},
{"data":{"name":"rim"},"mark":{"type":"line","color":"#12b4ff","strokeWidth":4},"encoding":{}},
{"data":{"name":"ticks"},"mark":{"type":"rule","color":"#222222","strokeWidth":2},"encoding":{"x2":{"field":"x2"},"y2":{"field":"y2"}}},
{"data":{"name":"yLabels"},"mark":{"type":"text","font":"Liberation Serif","fontWeight":"bold","fontSize":20,"color":"#222222"},"encoding":{"text":{"field":"t"}}},
{"data":{"name":"floorLabels"},"mark":{"type":"text","font":"Liberation Serif","fontWeight":"bold","fontSize":14,"angle":22,"color":"#333333"},"encoding":{"text":{"field":"t"}}},
{"data":{"name":"downTitles"},"mark":{"type":"text","font":"Liberation Serif","fontWeight":"bold","fontSize":16.5,"angle":27,"color":"#333333"},"encoding":{"text":{"field":"t"}}},
{"data":{"name":"upTitles"},"mark":{"type":"text","font":"Liberation Serif","fontWeight":"bold","fontSize":16.5,"angle":-23,"color":"#333333"},"encoding":{"text":{"field":"t"}}},
{"data":{"name":"yTitles"},"mark":{"type":"text","font":"Liberation Serif","fontWeight":"bold","fontSize":25,"angle":-90,"color":"#222222"},"encoding":{"text":{"field":"t"}}},
{"data":{"name":"captionPlain"},"mark":{"type":"text","font":"Liberation Serif","fontSize":78,"align":"left","baseline":"alphabetic","color":"black"},"encoding":{"text":{"field":"t"}}},
{"data":{"name":"captionBold"},"mark":{"type":"text","font":"Liberation Serif","fontWeight":"bold","fontSize":78,"align":"left","baseline":"alphabetic","color":"black"},"encoding":{"text":{"field":"t"}}}
]
}
